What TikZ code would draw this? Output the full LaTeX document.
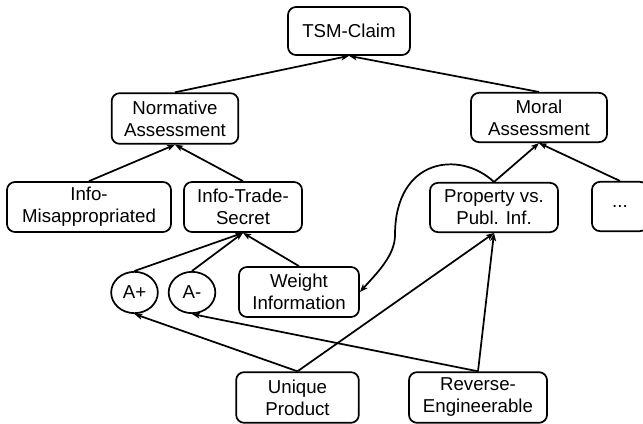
\documentclass[tikz,border=0pt]{standalone}
\usepackage{fontspec}
\setmainfont{Liberation Sans}
\usetikzlibrary{arrows.meta,shapes.geometric}

\tikzset{
  box/.style={draw, line width=1.3pt, rounded corners=6pt, align=center,
    inner sep=0pt, font=\fontsize{14}{16.5}\selectfont},
  arg/.style={draw, line width=1.3pt, ellipse, inner sep=0pt,
    minimum width=35pt, minimum height=31pt, font=\fontsize{14}{16.5}\selectfont},
  link/.style={line width=1.3pt, -{Stealth[length=6pt,width=4.5pt,inset=1.5pt]}},
}

\begin{document}
\begin{tikzpicture}[x=0.75pt,y=-0.75pt]
  \useasboundingbox (0,0) rectangle (643,424);
  \clip (0,0) rectangle (643,424);

  % top claim
  \node[box, minimum width=91.5pt, minimum height=36pt] (claim) at (349,31) {TSM-Claim};

  % assessments
  \node[box, minimum width=95pt, minimum height=38pt] (norm) at (175,118.5) {Normative\\Assessment};
  \node[box, minimum width=102pt, minimum height=37pt] (moral) at (539,117.5) {Moral\\Assessment};

  % factors
  \node[box, minimum width=123pt, minimum height=37.5pt] (misapp) at (89,207) {Info-\\Misappropriated};
  \node[box, minimum width=88.5pt, minimum height=37.5pt] (secret) at (243,207) {Info-Trade-\\Secret};
  \node[box, minimum width=96pt, minimum height=37pt] (prop) at (494,207.5) {Property vs.\\Publ. Inf.};
  \node[box, minimum width=42pt, minimum height=37pt] (more) at (620,206.5) {...};

  % arguments
  \node[arg] (aplus) at (134.5,292.5) {A+};
  \node[arg] (aminus) at (192,292.5) {A-};
  \node[box, minimum width=90pt, minimum height=37.5pt] (weight) at (299,292) {Weight\\Information};

  % facts
  \node[box, minimum width=92pt, minimum height=38pt] (unique) at (297.5,397.5) {Unique\\Product};
  \node[box, minimum width=103.5pt, minimum height=38pt] (reverse) at (478,397.5) {Reverse-\\Engineerable};

  % support links
  \draw[link] (norm.north) -- (claim.south);
  \draw[link] (moral.north) -- (claim.south);
  \draw[link] (misapp.north) -- (norm.south);
  \draw[link] (secret.north) -- (norm.south);
  \draw[link] (prop.north) -- (moral.south);
  \draw[link] (more.north) -- (moral.south);
  \draw[link] (aplus.north) -- (secret.south);
  \draw[link] (aminus.north) -- (secret.south);
  \draw[link] (weight.north) -- (secret.south);
  \draw[link] (unique.north) -- (prop.south);
  \draw[link] (reverse.north) -- (prop.south);
  \draw[link] (unique.north) -- (aplus.south);
  \draw[link] (reverse.north) -- (aminus.south);

  % value link into the weighing
  \draw[link] (prop.north) .. controls (460,150) and (395,158) .. (395,235)
    .. controls (395,255) and (378,272) .. (weight.east);
\end{tikzpicture}
\end{document}
